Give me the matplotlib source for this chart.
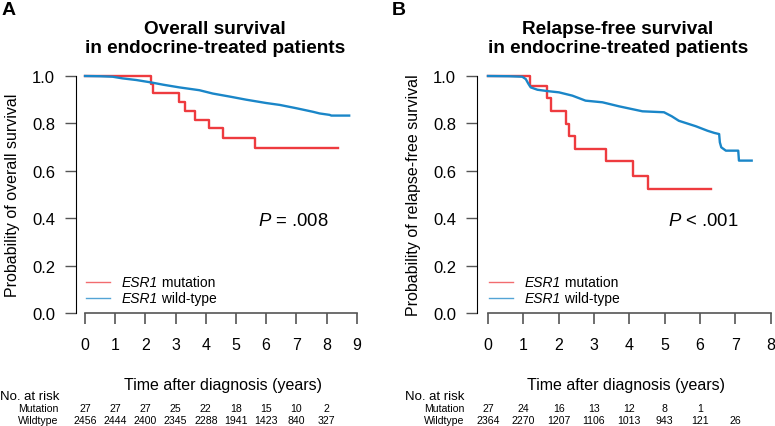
import matplotlib
matplotlib.use('Agg')
import matplotlib.pyplot as plt
from matplotlib.transforms import blended_transform_factory

plt.rcParams['font.family'] = ['Liberation Sans', 'DejaVu Sans']
plt.rcParams['mathtext.fontset'] = 'custom'
plt.rcParams['mathtext.rm'] = 'Liberation Sans'
plt.rcParams['mathtext.it'] = 'Liberation Sans:italic'

RED = '#EE3B3F'
BLUE = '#1A86C8'

# ---- data: panel A (overall survival) ----
a_mut_t = [0, 2.18, 2.26, 3.12, 3.32, 3.65, 4.12, 4.56, 5.64, 8.38]
a_mut_s = [1.0, 0.966, 0.928, 0.891, 0.854, 0.816, 0.779, 0.738, 0.696, 0.696]
a_wt_t = [0, 0.5, 0.91, 1.24, 1.7, 2.18, 2.6, 3.12, 3.79, 4.23, 4.8, 5.34,
          6.0, 6.45, 7.0, 7.55, 7.77, 8.1, 8.16, 8.75]
a_wt_s = [1.0, 0.999, 0.997, 0.990, 0.983, 0.973, 0.963, 0.952, 0.940, 0.926,
          0.913, 0.900, 0.886, 0.878, 0.864, 0.849, 0.842, 0.836, 0.833, 0.833]
a_times = [0, 1, 2, 3, 4, 5, 6, 7, 8, 9]
a_risk_mut = [27, 27, 27, 25, 22, 18, 15, 10, 2]
a_risk_wt = [2456, 2444, 2400, 2345, 2288, 1941, 1423, 840, 327]

# ---- data: panel B (relapse-free survival) ----
b_mut_t = [0, 1.19, 1.66, 1.77, 2.22, 2.29, 2.46, 3.33, 4.11, 4.54, 6.32]
b_mut_s = [1.0, 0.956, 0.906, 0.852, 0.797, 0.745, 0.692, 0.640, 0.579, 0.524, 0.524]
b_wt_t = [0, 0.6, 0.97, 1.07, 1.14, 1.21, 1.40, 1.7, 2.01, 2.39, 2.76, 3.24,
          3.71, 4.37, 4.98, 5.20, 5.40, 5.88, 6.21, 6.40, 6.54, 6.56, 6.60,
          6.73, 7.08, 7.10, 7.46]
b_wt_s = [1.0, 0.999, 0.997, 0.987, 0.968, 0.952, 0.942, 0.936, 0.931, 0.917,
          0.896, 0.889, 0.872, 0.851, 0.847, 0.830, 0.811, 0.788, 0.769, 0.760,
          0.755, 0.720, 0.699, 0.685, 0.685, 0.643, 0.643]
b_times = [0, 1, 2, 3, 4, 5, 6, 7, 8]
b_risk_mut = [27, 24, 16, 13, 12, 8, 1]
b_risk_wt = [2364, 2270, 1207, 1106, 1013, 943, 121, 26]

legend_labels = ['mutation', 'wild-type']

W, H = 775, 427
fig = plt.figure(figsize=(W / 100, H / 100), dpi=100)


def px_axes(left, top, right, bottom):
    return fig.add_axes([left / W, 1 - bottom / H, (right - left) / W, (bottom - top) / H])


def draw_panel(ax, mut_t, mut_s, wt_t, wt_s, times, xlim, ylabel, ptext, pxy, leg_x):
    ax.step(mut_t, mut_s, where='post', color=RED, lw=1.7, clip_on=False)
    ax.plot(wt_t, wt_s, color=BLUE, lw=1.7, clip_on=False)
    ax.set_xlim(xlim)
    ax.set_ylim(0, 1)
    for s in ['top', 'right']:
        ax.spines[s].set_visible(False)
    ax.spines['left'].set_bounds(0, 1)
    ax.spines['bottom'].set_bounds(times[0], times[-1])
    ax.spines['bottom'].set_color('#555555')
    ax.spines['bottom'].set_linewidth(1.2)
    ax.set_xticks(times)
    ax.set_yticks([0, 0.2, 0.4, 0.6, 0.8, 1.0])
    ax.set_yticklabels(['0.0', '0.2', '0.4', '0.6', '0.8', '1.0'])
    ax.tick_params(axis='y', length=8, width=1, color='#555555', pad=7, labelsize=12)
    ax.tick_params(axis='x', length=8, width=1.2, color='#555555', pad=9, labelsize=11.5)
    ax.set_ylabel(ylabel, fontsize=11.5, labelpad=9)
    ax.set_xlabel('Time after diagnosis (years)', fontsize=11.5, labelpad=18)
    ax.text(pxy[0], pxy[1], ptext, fontsize=13.3, va='center', transform=ax.transAxes)
    # legend drawn by hand so that "ESR1" is fully italic
    for col, lab, y in zip([RED, BLUE], legend_labels, [0.131, 0.063]):
        ax.plot([leg_x[0], leg_x[1]], [y, y], color=col, lw=1, alpha=0.75,
                transform=ax.transAxes, clip_on=False)
        t1 = ax.text(leg_x[2], y, 'ESR1', style='italic', fontsize=10,
                     va='center', ha='left', transform=ax.transAxes)
        ax.annotate(' ' + lab, xy=(1, 0.5), xycoords=t1, fontsize=10,
                    va='center', ha='left')


def risk_table(ax, times, risk_mut, risk_wt, x_head, x_lab):
    tr = blended_transform_factory(ax.transData, fig.transFigure)
    fig.text(x_head / W, 1 - 397 / H, 'No. at risk', fontsize=9.5, va='center', ha='left')
    fig.text(x_lab / W, 1 - 409 / H, 'Mutation', fontsize=7.6, va='center', ha='right')
    fig.text(x_lab / W, 1 - 421 / H, 'Wildtype', fontsize=7.6, va='center', ha='right')
    for t, n in zip(times, risk_mut):
        ax.text(t, 1 - 409 / H, str(n), transform=tr, fontsize=7.6, ha='center', va='center')
    for t, n in zip(times, risk_wt):
        ax.text(t, 1 - 421 / H, str(n), transform=tr, fontsize=7.6, ha='center', va='center')


axA = px_axes(76, 77, 370, 314)
draw_panel(axA, a_mut_t, a_mut_s, a_wt_t, a_wt_s, a_times, (-0.3, 9.44),
           'Probability of overall survival', r'$\mathit{P}$ = .008', (0.619, 0.39),
           (0.034, 0.116, 0.155))
risk_table(axA, a_times, a_risk_mut, a_risk_wt, 0, 58)

axB = px_axes(477, 77, 775, 314)
draw_panel(axB, b_mut_t, b_mut_s, b_wt_t, b_wt_s, b_times, (-0.31, 8.12),
           'Probability of relapse-free survival', r'$\mathit{P}$ < .001', (0.641, 0.39),
           (0.041, 0.122, 0.161))
risk_table(axB, b_times, b_risk_mut, b_risk_wt, 405, 464)

fig.text(215 / W, 1 - 39 / H, 'Overall survival\nin endocrine-treated patients',
         ha='center', va='center', fontsize=13.7, fontweight='bold', linespacing=1.2)
fig.text(618 / W, 1 - 39 / H, 'Relapse-free survival\nin endocrine-treated patients',
         ha='center', va='center', fontsize=13.7, fontweight='bold', linespacing=1.2)
fig.text(2 / W, 1 - 2 / H, 'A', ha='left', va='top', fontsize=14, fontweight='bold')
fig.text(392 / W, 1 - 2 / H, 'B', ha='left', va='top', fontsize=14, fontweight='bold')

fig.savefig('out.png', dpi=100)
